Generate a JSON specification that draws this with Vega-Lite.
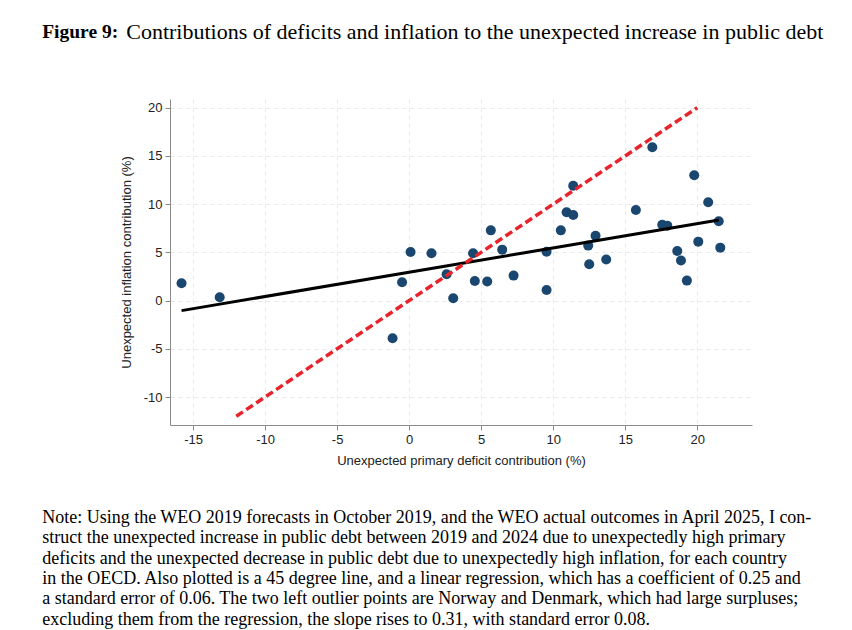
{
  "$schema": "https://vega.github.io/schema/vega-lite/v6.json",
  "padding": {"left": 42, "top": 21, "right": 0, "bottom": 0},
  "background": "white",
  "config": {"view": {"stroke": null}, "font": "Liberation Sans", "concat": {"spacing": 0}},
  "datasets": {
    "pts": [
      {"deficit": -15.8, "inflation": 1.8},
      {"deficit": -13.15, "inflation": 0.34},
      {"deficit": -1.15, "inflation": -3.9},
      {"deficit": -0.49, "inflation": 1.9},
      {"deficit": 0.1, "inflation": 5.04},
      {"deficit": 1.55, "inflation": 4.9},
      {"deficit": 2.6, "inflation": 2.73},
      {"deficit": 3.06, "inflation": 0.24},
      {"deficit": 4.44, "inflation": 4.9},
      {"deficit": 4.56, "inflation": 2.03},
      {"deficit": 5.42, "inflation": 1.97},
      {"deficit": 5.67, "inflation": 7.28},
      {"deficit": 6.46, "inflation": 5.28},
      {"deficit": 7.25, "inflation": 2.59},
      {"deficit": 9.54, "inflation": 5.07},
      {"deficit": 9.54, "inflation": 1.1},
      {"deficit": 10.53, "inflation": 7.28},
      {"deficit": 10.93, "inflation": 9.15},
      {"deficit": 11.39, "inflation": 8.87},
      {"deficit": 11.39, "inflation": 11.9},
      {"deficit": 12.43, "inflation": 5.7},
      {"deficit": 12.5, "inflation": 3.76},
      {"deficit": 12.94, "inflation": 6.73},
      {"deficit": 13.68, "inflation": 4.25},
      {"deficit": 15.74, "inflation": 9.39},
      {"deficit": 16.88, "inflation": 15.9},
      {"deficit": 17.57, "inflation": 7.87},
      {"deficit": 17.92, "inflation": 7.77},
      {"deficit": 18.61, "inflation": 5.14},
      {"deficit": 18.87, "inflation": 4.15},
      {"deficit": 19.28, "inflation": 2.07},
      {"deficit": 19.79, "inflation": 13.0},
      {"deficit": 20.07, "inflation": 6.11},
      {"deficit": 20.76, "inflation": 10.19},
      {"deficit": 21.49, "inflation": 8.22},
      {"deficit": 21.6, "inflation": 5.49}
    ],
    "lines": [
      {"series": "fit", "deficit": -15.8, "inflation": -1.04},
      {"series": "fit", "deficit": 21.5, "inflation": 8.35},
      {"series": "45", "deficit": -12, "inflation": -12},
      {"series": "45", "deficit": 20, "inflation": 20}
    ]
  },
  "title": {
    "text": [
      "Note: Using the WEO 2019 forecasts in October 2019, and the WEO actual outcomes in April 2025, I con-",
      "struct the unexpected increase in public debt between 2019 and 2024 due to unexpectedly high primary",
      "deficits and the unexpected decrease in public debt due to unexpectedly high inflation, for each country",
      "in the OECD. Also plotted is a 45 degree line, and a linear regression, which has a coefficient of 0.25 and",
      "a standard error of 0.06. The two left outlier points are Norway and Denmark, which had large surpluses;",
      "excluding them from the regression, the slope rises to 0.31, with standard error 0.08."
    ],
    "orient": "bottom",
    "anchor": "start",
    "font": "Liberation Serif",
    "fontSize": 18,
    "fontWeight": "normal",
    "lineHeight": 20.3,
    "color": "black",
    "baseline": "top",
    "offset": 42
  },
  "vconcat": [
    {
      "title": {
        "text": "Figure 9:",
        "orient": "left",
        "anchor": "end",
        "angle": 0,
        "align": "right",
        "baseline": "top",
        "font": "Liberation Serif",
        "fontSize": 19.5,
        "fontWeight": "bold",
        "color": "black",
        "offset": -74,
        "dy": 2
      },
      "vconcat": [
        {
          "title": {
            "text": "Contributions of deficits and inflation to the unexpected increase in public debt",
            "anchor": "start",
            "font": "Liberation Serif",
            "fontSize": 22,
            "fontWeight": "normal",
            "color": "black",
            "baseline": "alphabetic",
            "offset": 38,
            "dx": 6
          },
          "width": 582,
          "height": 326,
          "encoding": {
            "x": {
              "field": "deficit",
              "type": "quantitative",
              "title": "Unexpected primary deficit contribution (%)",
              "scale": {"domain": [-16.6, 23.8], "nice": false, "zero": false},
              "axis": {
                "values": [-15, -10, -5, 0, 5, 10, 15, 20],
                "labelExpr": "datum.value + ''",
                "domainColor": "#8c8c8c",
                "tickColor": "#8c8c8c",
                "tickSize": 5,
                "labelFontSize": 13,
                "labelColor": "#222222",
                "labelPadding": 3,
                "titleFontSize": 13,
                "titleFontWeight": "normal",
                "titleColor": "#222222",
                "titlePadding": 8,
                "grid": true,
                "gridColor": "#e8e8e8",
                "gridDash": [4, 4]
              }
            },
            "y": {
              "field": "inflation",
              "type": "quantitative",
              "title": "Unexpected inflation contribution (%)",
              "scale": {"domain": [-12.9, 20.9], "nice": false, "zero": false},
              "axis": {
                "values": [-10, -5, 0, 5, 10, 15, 20],
                "labelExpr": "datum.value + ''",
                "domainColor": "#8c8c8c",
                "tickColor": "#8c8c8c",
                "tickSize": 5,
                "labelFontSize": 13,
                "labelColor": "#222222",
                "labelPadding": 3,
                "titleFontSize": 13,
                "titleFontWeight": "normal",
                "titleColor": "#222222",
                "titlePadding": 10,
                "grid": true,
                "gridColor": "#e8e8e8",
                "gridDash": [4, 4]
              }
            }
          },
          "layer": [
            {
              "data": {"name": "pts"},
              "mark": {"type": "circle", "size": 100, "color": "#1a476f", "opacity": 1}
            },
            {
              "data": {"name": "lines"},
              "transform": [{"filter": "datum.series === 'fit'"}],
              "mark": {"type": "line", "color": "black", "strokeWidth": 3}
            },
            {
              "data": {"name": "lines"},
              "transform": [{"filter": "datum.series === '45'"}],
              "mark": {"type": "line", "color": "#e8232b", "strokeWidth": 3.5, "strokeDash": [8, 4]}
            }
          ]
        }
      ]
    }
  ]
}
